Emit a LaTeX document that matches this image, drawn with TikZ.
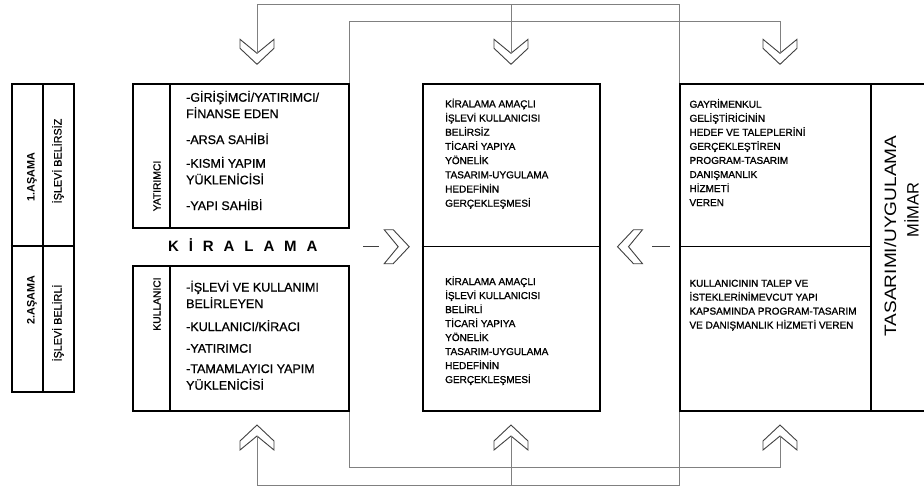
\documentclass[tikz,border=0pt]{standalone}
\usepackage{fontspec}
\setmainfont{Liberation Sans}
\newfontfamily\mfont{Liberation Sans}[FakeBold=0.8]
\newfontfamily\sfontb{Liberation Sans}[FakeBold=1.2]
\usepackage{graphicx}
\newcommand\kirsp{\hspace{9.9pt}}
\begin{document}
\begin{tikzpicture}[x=1pt,y=-1pt,
  box/.style={draw=black, line width=1.8pt, inner sep=0pt, fill=none},
  divl/.style={draw=black, line width=1.6pt},
  hdiv/.style={draw=black, line width=1.3pt},
  conn/.style={draw=black!50, line width=0.8pt},
  dashl/.style={draw=black!75, line width=1.2pt},
  chevline/.style={draw=black!75, line width=0.9pt, fill=white, line join=miter},
  ltext/.style={anchor=base west, inner sep=0pt, font=\mfont\fontsize{12.5}{15}\selectfont},
  stext/.style={anchor=base west, inner sep=0pt, font=\sfontb\fontsize{10}{12}\selectfont},
  rlab/.style={rotate=90, anchor=base, inner sep=0pt},
  chev/.pic={\path[chevline] (-17,-12.5) -- (-17,-3.5) -- (0,12.5) -- (17,-3.5) -- (17,-12.5) -- (0,1.5) -- cycle;}
]
\useasboundingbox (0,0) rectangle (924,490);

% ---------- boxes ----------
\node[box, anchor=north west, minimum width=62.3pt, minimum height=307.7pt] (tbl) at (10.7,83.3) {};
\node[box, anchor=north west, minimum width=216.3pt, minimum height=143.7pt] (yat) at (131.7,83.3) {};
\node[box, anchor=north west, minimum width=216.3pt, minimum height=145pt] (kul) at (131.7,265) {};
\node[box, anchor=north west, minimum width=177.6pt, minimum height=326.7pt] (mid) at (421.7,83.3) {};
\node[box, anchor=north west, minimum width=260pt, minimum height=326.7pt] (rgt) at (679.3,83.3) {};

% dividers
\draw[divl] (42.7,83.3) -- (42.7,391);
\draw[divl] (10.7,246) -- (73,246);
\draw[divl] (170,83.3) -- (170,227);
\draw[divl] (170,265) -- (170,410);
\draw[hdiv] (421.7,246.7) -- (599.3,246.7);
\draw[divl] (871,83.3) -- (871,410);
\draw[hdiv] (679.3,246.7) -- (871,246.7);

% ---------- left table labels ----------
\node[rlab, font=\bfseries\fontsize{10.8}{12}\selectfont] (a1) at (34.5,177) {1.AŞAMA};
\node[rlab, font=\mfont\fontsize{10.8}{12}\selectfont] (b1) at (61.5,161) {İŞLEVİ BELİRSİZ};
\node[rlab, font=\bfseries\fontsize{10.8}{12}\selectfont] (a2) at (34.5,300) {2.AŞAMA};
\node[rlab, font=\mfont\fontsize{10.8}{12}\selectfont] (b2) at (61.5,323) {İŞLEVİ BELİRLİ};

% ---------- yatirimci ----------
\node[rlab, font=\mfont\fontsize{10.3}{12}\selectfont] (yl) at (160.5,186) {YATIRIMCI};
\node[ltext] (y1) at (186,101.7) {-GİRİŞİMCİ/YATIRIMCI/};
\node[ltext] (y2) at (186,118.1) {FİNANSE EDEN};
\node[ltext] (y3) at (186,144) {-ARSA SAHİBİ};
\node[ltext] (y4) at (186,167.7) {-KISMİ YAPIM};
\node[ltext] (y5) at (186,184.3) {YÜKLENİCİSİ};
\node[ltext] (y6) at (186,210) {-YAPI SAHİBİ};

% ---------- KIRALAMA ----------
\node[anchor=base west, inner sep=0pt, font=\bfseries\fontsize{15}{17}\selectfont] (kir) at (168,251.2)
  {K\kirsp İ\kirsp R\kirsp A\kirsp L\kirsp A\kirsp M\kirsp A};

% ---------- kullanici ----------
\node[rlab, font=\mfont\fontsize{10.3}{12}\selectfont] (kl) at (160.5,304) {KULLANICI};
\node[ltext] (k1) at (186,291.5) {-İŞLEVİ VE KULLANIMI};
\node[ltext] (k2) at (186,308) {BELİRLEYEN};
\node[ltext] (k3) at (186,331) {-KULLANICI/KİRACI};
\node[ltext] (k4) at (186,352.7) {-YATIRIMCI};
\node[ltext] (k5) at (186,373) {-TAMAMLAYICI YAPIM};
\node[ltext] (k6) at (186,389.7) {YÜKLENİCİSİ};

% ---------- middle box ----------
\foreach \t [count=\i] in {KİRALAMA AMAÇLI,İŞLEVİ KULLANICISI,BELİRSİZ,TİCARİ YAPIYA,YÖNELİK,TASARIM-UYGULAMA,HEDEFİNİN,GERÇEKLEŞMESİ}
  \node[stext] (mu\i) at (445,{107.3+14.2*(\i-1)}) {\t};
\foreach \t [count=\i] in {KİRALAMA AMAÇLI,İŞLEVİ KULLANICISI,BELİRLİ,TİCARİ YAPIYA,YÖNELİK,TASARIM-UYGULAMA,HEDEFİNİN,GERÇEKLEŞMESİ}
  \node[stext] (ml\i) at (445,{285+14*(\i-1)}) {\t};

% ---------- right box ----------
\foreach \t [count=\i] in {GAYRİMENKUL,GELİŞTİRİCİNİN,HEDEF VE TALEPLERİNİ,GERÇEKLEŞTİREN,PROGRAM-TASARIM,DANIŞMANLIK,HİZMETİ,VEREN}
  \node[stext] (ru\i) at (689.3,{107.7+14.05*(\i-1)}) {\t};
\foreach \t [count=\i] in {KULLANICININ TALEP VE,İSTEKLERİNİMEVCUT YAPI,KAPSAMINDA PROGRAM-TASARIM,VE DANIŞMANLIK HİZMETİ VEREN}
  \node[stext] (rl\i) at (689.3,{286.7+13.95*(\i-1)}) {\t};

\node[rlab, font=\fontsize{16.5}{18}\selectfont] (tu) at (896,236) {\scalebox{1.155}[1]{TASARIMI/UYGULAMA}};
\node[rlab, font=\fontsize{16.5}{18}\selectfont] (mi) at (918.5,210) {MİMAR};

% ---------- chevrons ----------
\pic at (257,51.8) {chev};
\pic at (511,51.8) {chev};
\pic at (780,51.8) {chev};
\pic[rotate=180] at (257,437.5) {chev};
\pic[rotate=180] at (511,437.5) {chev};
\pic[rotate=180] at (780,437.5) {chev};
\pic[rotate=90] at (396.7,246.7) {chev};
\pic[rotate=-90] at (630,246.7) {chev};

\coordinate (nT1) at (257,53.3);
\coordinate (nT2) at (511,53.3);
\coordinate (nT3) at (780,53.3);
\coordinate (nB1) at (257,436);
\coordinate (nB2) at (511,436);
\coordinate (nB3) at (780,436);
\coordinate (dL1) at (363,246.7);
\coordinate (dL2) at (379,246.7);
\coordinate (dR1) at (652,246.7);
\coordinate (dR2) at (670,246.7);

% ---------- connectors ----------
\draw[conn] (nT1) -- (257,4.5) -| (rgt.north west);
\draw[conn] (511,4.5) -- (nT2);
\draw[conn] (yat.north east) -- ++(0,-62.3) -| (nT3);
\draw[conn] (kul.south east) -- ++(0,56) -| (nB3);
\draw[conn] (nB1) -- (257,485) -| (rgt.south west);
\draw[conn] (511,485) -- (nB2);

\draw[dashl] (dL1) -- (dL2);
\draw[dashl] (dR1) -- (dR2);
\end{tikzpicture}
\end{document}
